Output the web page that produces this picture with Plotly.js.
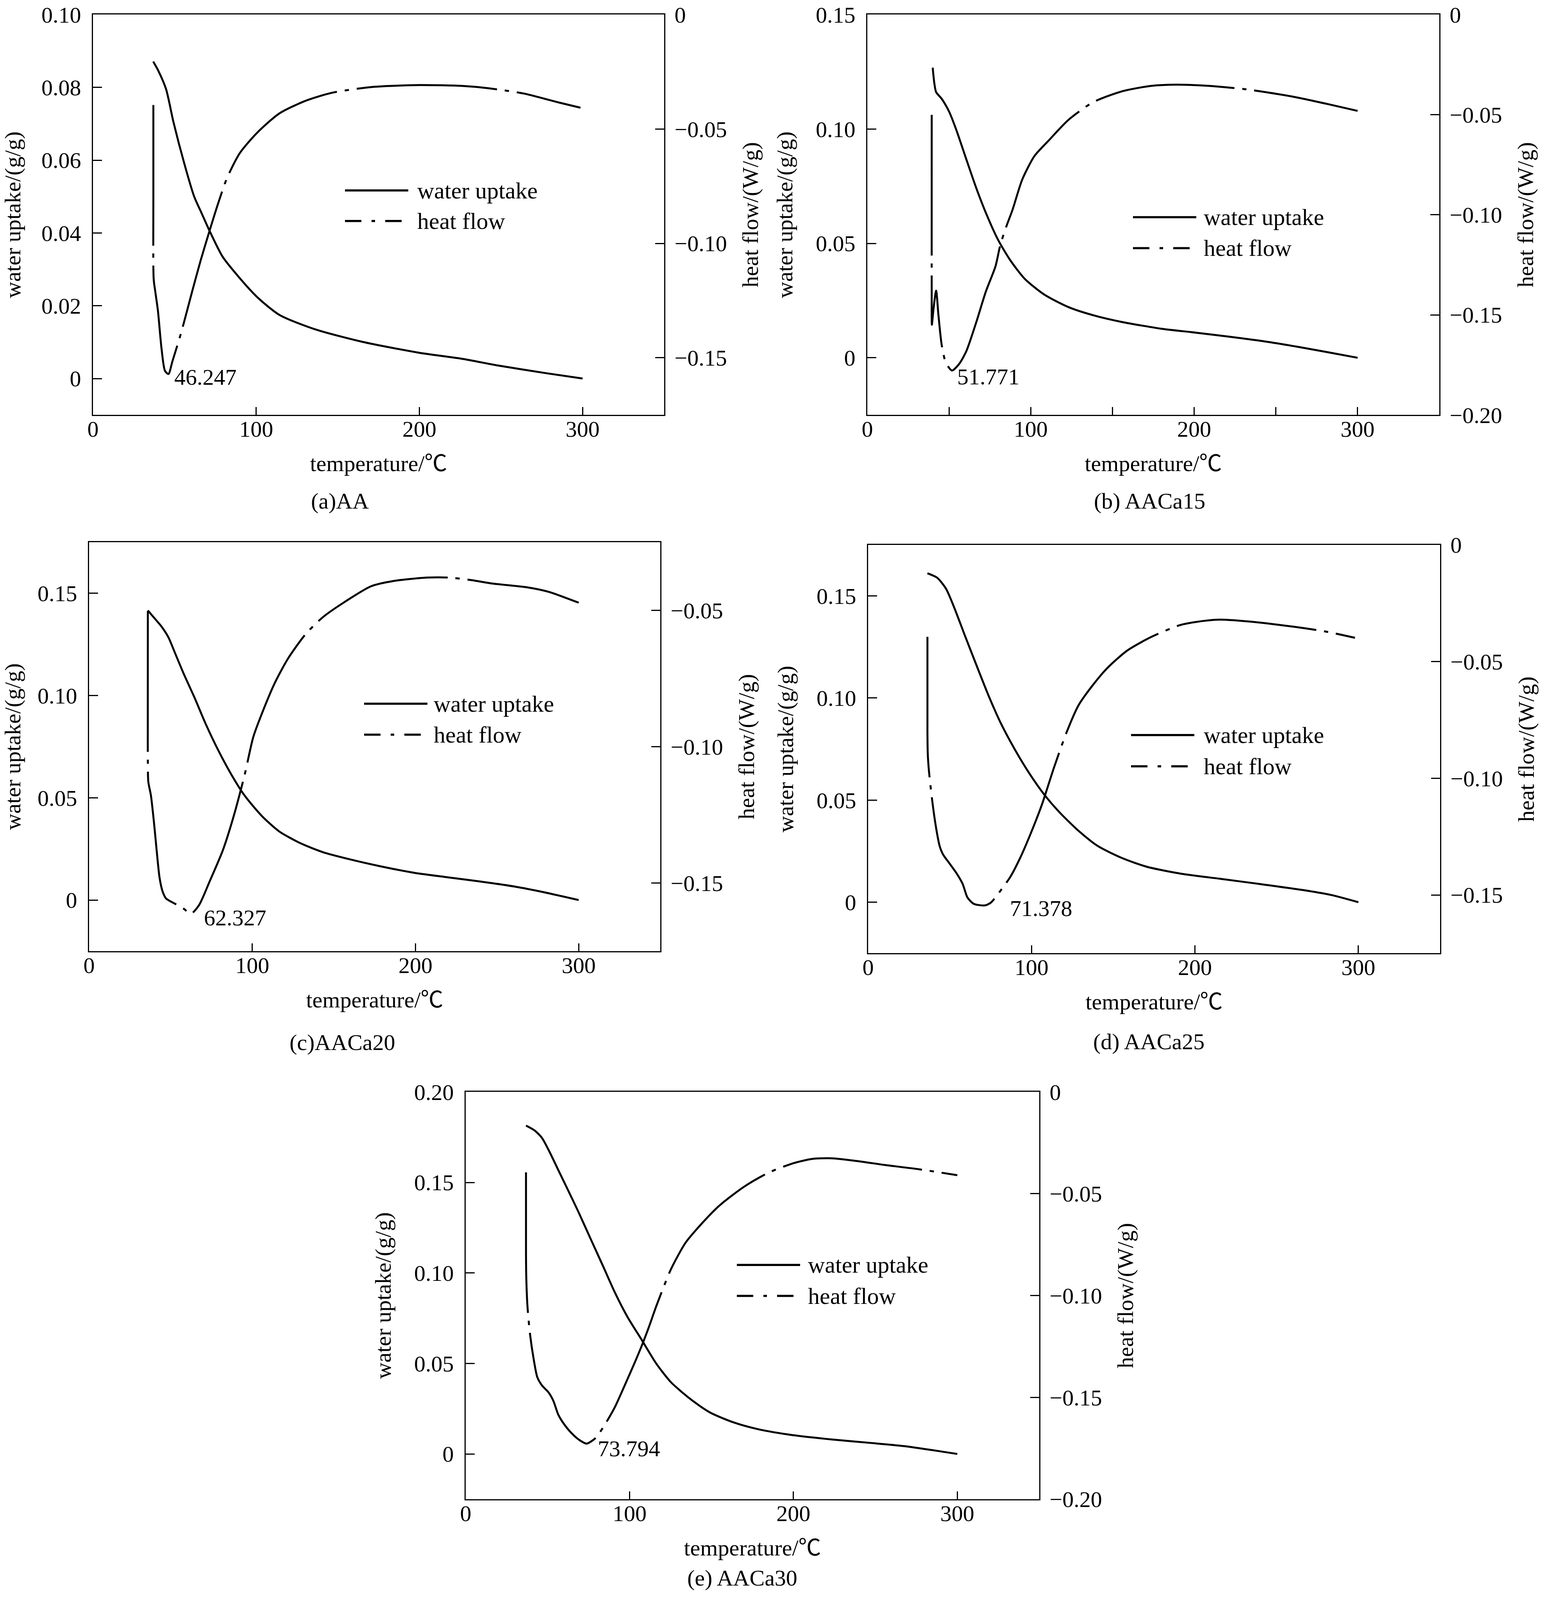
<!DOCTYPE html>
<html>
<head>
<meta charset="utf-8">
<script src="https://cdn.plot.ly/plotly-3.0.1.min.js"></script>
<style>html,body{margin:0;padding:0;background:#fff;overflow:hidden;}</style>
</head>
<body>
<div id="chart"></div>
<script>
// ---------------- DATA ----------------
// x tick labels (shared)
const xTickVals = [0, 100, 200, 300];
const xTickText = ['0', '100', '200', '300'];

// (a) AA
const tempA_water = [36.9, 40.0, 44.8, 49.3, 56.0, 62.0, 66.5, 71.0, 79.4, 90.1, 100.8, 114.2, 135.6, 165.0, 199.7, 226.5, 247.9, 277.3, 300.0];
const waterA      = [0.0871, 0.0846, 0.0795, 0.0705, 0.0590, 0.0500, 0.0455, 0.0410, 0.0335, 0.0275, 0.0223, 0.0175, 0.0136, 0.0101, 0.0071, 0.0054, 0.0036, 0.0015, 0.0000];
const tempA_heat  = [37.0, 37.0, 37.2, 38.2, 39.8, 42.0, 44.1, 46.25, 48.7, 54.0, 60.7, 66.0, 71.0, 76.7, 82.1, 90.1, 100.8, 114.2, 130.2, 146.3, 170.3, 199.7, 226.5, 242.5, 263.9, 285.3, 298.7];
const heatA       = [-0.0395, -0.0800, -0.1157, -0.1212, -0.1295, -0.1460, -0.1557, -0.1571, -0.1515, -0.1391, -0.1212, -0.1074, -0.0955, -0.0825, -0.0715, -0.0604, -0.0515, -0.0432, -0.0377, -0.0342, -0.0317, -0.0308, -0.0312, -0.0322, -0.0345, -0.0384, -0.0407];
const leftTicksA  = [0, 0.02, 0.04, 0.06, 0.08, 0.10];
const leftTextA   = ['0', '0.02', '0.04', '0.06', '0.08', '0.10'];
const rightTicksA = [0, -0.05, -0.10, -0.15];
const rightTextA  = ['0', '\u22120.05', '\u22120.10', '\u22120.15'];

// (b) AACa15
const tempB_water = [40.0, 41.0, 42.1, 45.6, 50.1, 54.6, 60.5, 66.5, 72.5, 79.9, 87.4, 96.3, 108.3, 123.2, 138.1, 156.0, 179.8, 200.7, 221.6, 245.5, 263.3, 281.2, 300.0];
const waterB      = [0.1268, 0.1200, 0.1161, 0.1131, 0.1075, 0.0993, 0.0869, 0.0745, 0.0634, 0.0517, 0.0427, 0.0345, 0.0276, 0.0221, 0.0186, 0.0156, 0.0127, 0.0110, 0.0092, 0.0069, 0.0048, 0.0025, 0.0000];
const tempB_heat  = [39.4, 39.4, 39.5, 40.5, 42.1, 43.5, 45.5, 48.0, 51.77, 56.1, 60.5, 66.5, 72.5, 78.4, 81.4, 85.0, 88.9, 94.8, 102.3, 111.2, 123.2, 138.1, 156.0, 173.9, 188.8, 206.7, 230.5, 260.4, 281.2, 300.0];
const heatB       = [-0.0501, -0.1400, -0.1549, -0.1470, -0.1379, -0.1500, -0.1650, -0.1738, -0.1778, -0.1746, -0.1683, -0.1541, -0.1384, -0.1258, -0.1150, -0.1060, -0.0974, -0.0824, -0.0706, -0.0627, -0.0525, -0.0438, -0.0383, -0.0356, -0.0350, -0.0355, -0.0372, -0.0410, -0.0446, -0.0481];
const leftTicksB  = [0, 0.05, 0.10, 0.15];
const leftTextB   = ['0', '0.05', '0.10', '0.15'];
const rightTicksB = [0, -0.05, -0.10, -0.15, -0.20];
const rightTextB  = ['0', '\u22120.05', '\u22120.10', '\u22120.15', '\u22120.20'];

// (c) AACa20
const tempC_water = [36.0, 39.2, 44.6, 48.6, 52.6, 57.9, 64.6, 71.3, 79.3, 87.3, 95.3, 106.0, 116.6, 130.0, 143.3, 159.3, 178.0, 199.4, 218.0, 239.4, 260.7, 279.4, 300.0];
const waterC      = [0.1416, 0.1386, 0.1335, 0.1285, 0.1209, 0.1108, 0.0990, 0.0864, 0.0730, 0.0612, 0.0511, 0.0410, 0.0335, 0.0276, 0.0234, 0.0200, 0.0166, 0.0133, 0.0113, 0.0091, 0.0066, 0.0037, 0.0000];
const tempC_heat  = [36.0, 36.0, 36.3, 37.9, 39.8, 41.4, 43.2, 45.1, 47.2, 52.6, 57.9, 62.33, 67.3, 73.9, 81.9, 88.6, 95.3, 100.6, 106.0, 114.0, 122.0, 132.6, 143.3, 156.7, 172.7, 186.0, 207.4, 220.7, 234.1, 247.4, 268.7, 282.1, 292.8, 300.0];
const heatC       = [-0.0503, -0.1050, -0.1129, -0.1179, -0.1280, -0.1380, -0.1481, -0.1532, -0.1557, -0.1576, -0.1594, -0.1613, -0.1582, -0.1494, -0.1381, -0.1255, -0.1104, -0.0965, -0.0877, -0.0764, -0.0676, -0.0588, -0.0525, -0.0469, -0.0412, -0.0393, -0.0380, -0.0380, -0.0389, -0.0402, -0.0416, -0.0433, -0.0456, -0.0472];
const leftTicksC  = [0, 0.05, 0.10, 0.15];
const leftTextC   = ['0', '0.05', '0.10', '0.15'];
const rightTicksC = [-0.05, -0.10, -0.15];
const rightTextC  = ['\u22120.05', '\u22120.10', '\u22120.15'];

// (d) AACa25
const tempD_water = [36.3, 42.3, 47.7, 52.7, 58.7, 66.1, 73.6, 81.0, 90.0, 98.9, 107.8, 116.8, 128.7, 140.6, 155.5, 170.4, 191.2, 215.1, 238.9, 265.7, 283.6, 300.0];
const waterD      = [0.1611, 0.1589, 0.1535, 0.1443, 0.1317, 0.1165, 0.1014, 0.0880, 0.0745, 0.0628, 0.0527, 0.0443, 0.0350, 0.0275, 0.0216, 0.0174, 0.0140, 0.0115, 0.0090, 0.0060, 0.0035, 0.0000];
const tempD_heat  = [36.3, 36.3, 36.5, 37.2, 39.3, 41.7, 43.8, 45.9, 49.7, 54.2, 57.8, 60.8, 64.6, 71.38, 75.1, 81.0, 87.0, 93.0, 98.9, 106.3, 113.8, 121.3, 128.7, 137.6, 146.6, 158.5, 173.4, 191.2, 206.1, 215.1, 233.0, 259.8, 280.6, 297.9];
const heatD       = [-0.0394, -0.0800, -0.0894, -0.0967, -0.1100, -0.1217, -0.1291, -0.1327, -0.1364, -0.1408, -0.1452, -0.1511, -0.1538, -0.1545, -0.1533, -0.1482, -0.1423, -0.1342, -0.1247, -0.1114, -0.0953, -0.0806, -0.0688, -0.0600, -0.0526, -0.0453, -0.0394, -0.0343, -0.0325, -0.0320, -0.0328, -0.0350, -0.0372, -0.0398];
const leftTicksD  = [0, 0.05, 0.10, 0.15];
const leftTextD   = ['0', '0.05', '0.10', '0.15'];
const rightTicksD = [0, -0.05, -0.10, -0.15];
const rightTextD  = ['0', '\u22120.05', '\u22120.10', '\u22120.15'];

// (e) AACa30
const tempE_water = [36.8, 42.2, 46.6, 51.1, 57.0, 63.0, 68.9, 76.3, 83.8, 91.2, 98.6, 107.5, 116.4, 125.3, 137.2, 149.1, 163.9, 178.8, 199.6, 223.3, 247.1, 267.9, 285.7, 300.0];
const waterE      = [0.1814, 0.1786, 0.1745, 0.1670, 0.1559, 0.1447, 0.1335, 0.1187, 0.1038, 0.0889, 0.0759, 0.0629, 0.0498, 0.0396, 0.0303, 0.0229, 0.0173, 0.0136, 0.0104, 0.0080, 0.0061, 0.0043, 0.0020, 0.0000];
const tempE_heat  = [36.8, 36.8, 37.0, 37.7, 39.2, 41.6, 43.7, 46.6, 50.5, 53.5, 56.4, 59.4, 64.4, 69.5, 73.79, 79.3, 85.2, 91.2, 97.1, 103.1, 107.5, 112.0, 116.4, 125.3, 134.2, 143.1, 155.0, 169.8, 184.7, 199.6, 211.5, 223.3, 238.2, 256.0, 276.8, 300.0];
const heatE       = [-0.0395, -0.0800, -0.0921, -0.1054, -0.1186, -0.1318, -0.1401, -0.1442, -0.1475, -0.1517, -0.1583, -0.1624, -0.1674, -0.1710, -0.1727, -0.1699, -0.1630, -0.1545, -0.1440, -0.1330, -0.1245, -0.1150, -0.1050, -0.0870, -0.0740, -0.0655, -0.0557, -0.0466, -0.0397, -0.0351, -0.0329, -0.0326, -0.0339, -0.0359, -0.0380, -0.0409];
const leftTicksE  = [0, 0.05, 0.10, 0.15, 0.20];
const leftTextE   = ['0', '0.05', '0.10', '0.15', '0.20'];
const rightTicksE = [0, -0.05, -0.10, -0.15, -0.20];
const rightTextE  = ['0', '\u22120.05', '\u22120.10', '\u22120.15', '\u22120.20'];

// peak temperatures (labels) and captions
const peakLabels = ['46.247', '51.771', '62.327', '71.378', '73.794'];
const subTitles  = ['(a)AA', '(b) AACa15', '(c)AACa20', '(d) AACa25', '(e) AACa30'];

// ---------------- LAYOUT ----------------
// Reference design canvas is 3952 x 4604; positions are expressed in
// fractions of it so the figure fills whatever viewport is available.
const REF_W = 3952, REF_H = 4604;
const W = REF_W;
const H = Math.min(window.innerHeight || REF_H, REF_H);
const k = H / REF_H;                  // vertical scale
const FONT = 'Liberation Serif, "Times New Roman", "Noto Sans CJK SC", serif';
const FS = 58;
const BLACK = '#000000';
document.getElementById('chart').style.width = W + 'px';
document.getElementById('chart').style.height = H + 'px';

const panels = [
  { box: [238, 1700, 42, 1194],  yl: [-0.01, 0.10],   yr: [-0.175, 0],
    tw: tempA_water, w: waterA, th: tempA_heat, h: heatA,
    lt: leftTicksA, ltx: leftTextA, rt: rightTicksA, rtx: rightTextA,
    peakPos: [49.4, 0.0004], leg: [883, 548, 636, 1066], sub: [870, 1441], minor: false },
  { box: [2220, 3684, 42, 1194], yl: [-0.025, 0.15],  yr: [-0.20, 0],
    tw: tempB_water, w: waterB, th: tempB_heat, h: heatB,
    lt: leftTicksB, ltx: leftTextB, rt: rightTicksB, rtx: rightTextB,
    peakPos: [54.6, -0.0083], leg: [2900, 625, 714, 3079], sub: [2942, 1441], minor: true },
  { box: [228, 1690, 1560, 2737], yl: [-0.025, 0.175], yr: [-0.175, -0.025],
    tw: tempC_water, w: waterC, th: tempC_heat, h: heatC,
    lt: leftTicksC, ltx: leftTextC, rt: rightTicksC, rtx: rightTextC,
    peakPos: [69.9, -0.0086], leg: [932, 2025, 2114, 1108], sub: [876, 3000], minor: false },
  { box: [2222, 3686, 1568, 2743], yl: [-0.025, 0.175], yr: [-0.175, 0],
    tw: tempD_water, w: waterD, th: tempD_heat, h: heatD,
    lt: leftTicksD, ltx: leftTextD, rt: rightTicksD, rtx: rightTextD,
    peakPos: [86.4, -0.003], leg: [2895, 2115, 2205, 3079], sub: [2940, 2997], minor: false },
  { box: [1192, 2660, 3142, 4314], yl: [-0.025, 0.20], yr: [-0.20, 0],
    tw: tempE_water, w: waterE, th: tempE_heat, h: heatE,
    lt: leftTicksE, ltx: leftTextE, rt: rightTicksE, rtx: rightTextE,
    peakPos: [80.2, 0.003], leg: [1886, 3640, 3729, 2066], sub: [1900, 4540], minor: false }
];

const px = v => v / REF_W;          // horizontal reference px -> paper
const py = v => 1 - v / REF_H;      // vertical reference px -> paper

const data = [];
const layout = {
  width: W, height: H,
  margin: { l: 0, r: 0, t: 0, b: 0, pad: 0 },
  paper_bgcolor: '#ffffff', plot_bgcolor: '#ffffff',
  showlegend: false,
  font: { family: FONT, size: FS, color: BLACK },
  annotations: [], shapes: []
};

const tickFont = { family: FONT, size: FS, color: BLACK };
const titleFont = { family: FONT, size: FS, color: BLACK };

panels.forEach((p, i) => {
  const xn = i + 1, yln = 2 * i + 1, yrn = 2 * i + 2;
  const xKey = xn === 1 ? 'xaxis' : 'xaxis' + xn;
  const ylKey = yln === 1 ? 'yaxis' : 'yaxis' + yln;
  const yrKey = 'yaxis' + yrn;
  const xRef = xn === 1 ? 'x' : 'x' + xn;
  const ylRef = yln === 1 ? 'y' : 'y' + yln;
  const yrRef = 'y' + yrn;
  const [bx0, bx1, by0, by1] = p.box;

  layout[xKey] = {
    domain: [px(bx0), px(bx1)], anchor: ylRef, range: [0, 350],
    tickmode: 'array', tickvals: xTickVals, ticktext: xTickText,
    ticks: 'inside', ticklen: Math.round(23 * k), tickwidth: 3, tickcolor: BLACK,
    showline: true, linewidth: 3, linecolor: BLACK, mirror: true,
    showgrid: false, zeroline: false, tickfont: tickFont,
    ticklabelstandoff: Math.round(-19 * k), ticklabeloverflow: 'allow',
    title: { text: 'temperature/\u2103', font: titleFont, standoff: Math.round(40 * k) },
    automargin: false, fixedrange: true
  };
  if (p.minor) {
    layout[xKey].minor = { tickmode: 'linear', tick0: 0, dtick: 50, ticks: 'inside',
      ticklen: Math.round(23 * k), tickwidth: 3, tickcolor: BLACK, showgrid: false };
  }
  layout[ylKey] = {
    domain: [py(by1), py(by0)], anchor: xRef, range: p.yl,
    tickmode: 'array', tickvals: p.lt, ticktext: p.ltx,
    ticks: 'inside', ticklen: 23, tickwidth: 3, tickcolor: BLACK,
    showline: true, linewidth: 3, linecolor: BLACK, mirror: false,
    showgrid: false, zeroline: false, tickfont: tickFont,
    ticklabelstandoff: 16, ticklabeloverflow: 'allow',
    title: { text: 'water uptake/(g/g)', font: titleFont, standoff: 41 },
    automargin: false, fixedrange: true
  };
  layout[yrKey] = {
    overlaying: ylRef, side: 'right', anchor: xRef, range: p.yr,
    tickmode: 'array', tickvals: p.rt, ticktext: p.rtx,
    ticks: 'inside', ticklen: 23, tickwidth: 3, tickcolor: BLACK,
    showline: true, linewidth: 3, linecolor: BLACK,
    showgrid: false, zeroline: false, tickfont: tickFont,
    ticklabelstandoff: 12, ticklabeloverflow: 'allow',
    title: { text: 'heat flow/(W/g)', font: titleFont, standoff: 40 },
    automargin: false, fixedrange: true
  };

  data.push({
    type: 'scatter', mode: 'lines', name: 'water uptake',
    x: p.tw, y: p.w, xaxis: xRef, yaxis: ylRef,
    line: { color: BLACK, width: 5, shape: 'spline', smoothing: 0.7 },
    hoverinfo: 'skip'
  });
  data.push({
    type: 'scatter', mode: 'lines', name: 'heat flow',
    x: p.th, y: p.h, xaxis: xRef, yaxis: yrRef,
    line: { color: BLACK, width: 5, shape: 'spline', smoothing: 0.7, dash: '360px,20px,11px,20px' },
    hoverinfo: 'skip'
  });

  // peak temperature label
  layout.annotations.push({
    xref: xRef, yref: ylRef, x: p.peakPos[0], y: p.peakPos[1],
    text: peakLabels[i], showarrow: false, xanchor: 'left', yanchor: 'middle',
    font: { family: FONT, size: FS, color: BLACK }
  });

  // sub-figure caption
  layout.annotations.push({
    xref: 'paper', yref: 'paper', x: px(p.sub[0]), y: py(p.sub[1]),
    text: subTitles[i], showarrow: false, xanchor: 'center', yanchor: 'middle',
    font: { family: FONT, size: FS, color: BLACK }
  });

  // in-plot legend (line samples + labels)
  const [lx, ly1, ly2, tx] = p.leg;
  layout.shapes.push({
    type: 'line', xref: 'paper', yref: 'paper',
    x0: px(lx), x1: px(lx + 162), y0: py(ly1), y1: py(ly1),
    line: { color: BLACK, width: 5.5 }
  });
  layout.shapes.push({
    type: 'line', xref: 'paper', yref: 'paper',
    x0: px(lx), x1: px(lx + 146), y0: py(ly2), y1: py(ly2),
    line: { color: BLACK, width: 5.5, dash: '42px,26px,9px,26px' }
  });
  layout.annotations.push({
    xref: 'paper', yref: 'paper', x: px(tx), y: py(ly1),
    text: 'water uptake', showarrow: false, xanchor: 'left', yanchor: 'middle',
    font: { family: FONT, size: FS + 2, color: BLACK }
  });
  layout.annotations.push({
    xref: 'paper', yref: 'paper', x: px(tx), y: py(ly2),
    text: 'heat flow', showarrow: false, xanchor: 'left', yanchor: 'middle',
    font: { family: FONT, size: FS + 2, color: BLACK }
  });
});

Plotly.newPlot('chart', data, layout, { staticPlot: true, displayModeBar: false });
</script>
</body>
</html>
